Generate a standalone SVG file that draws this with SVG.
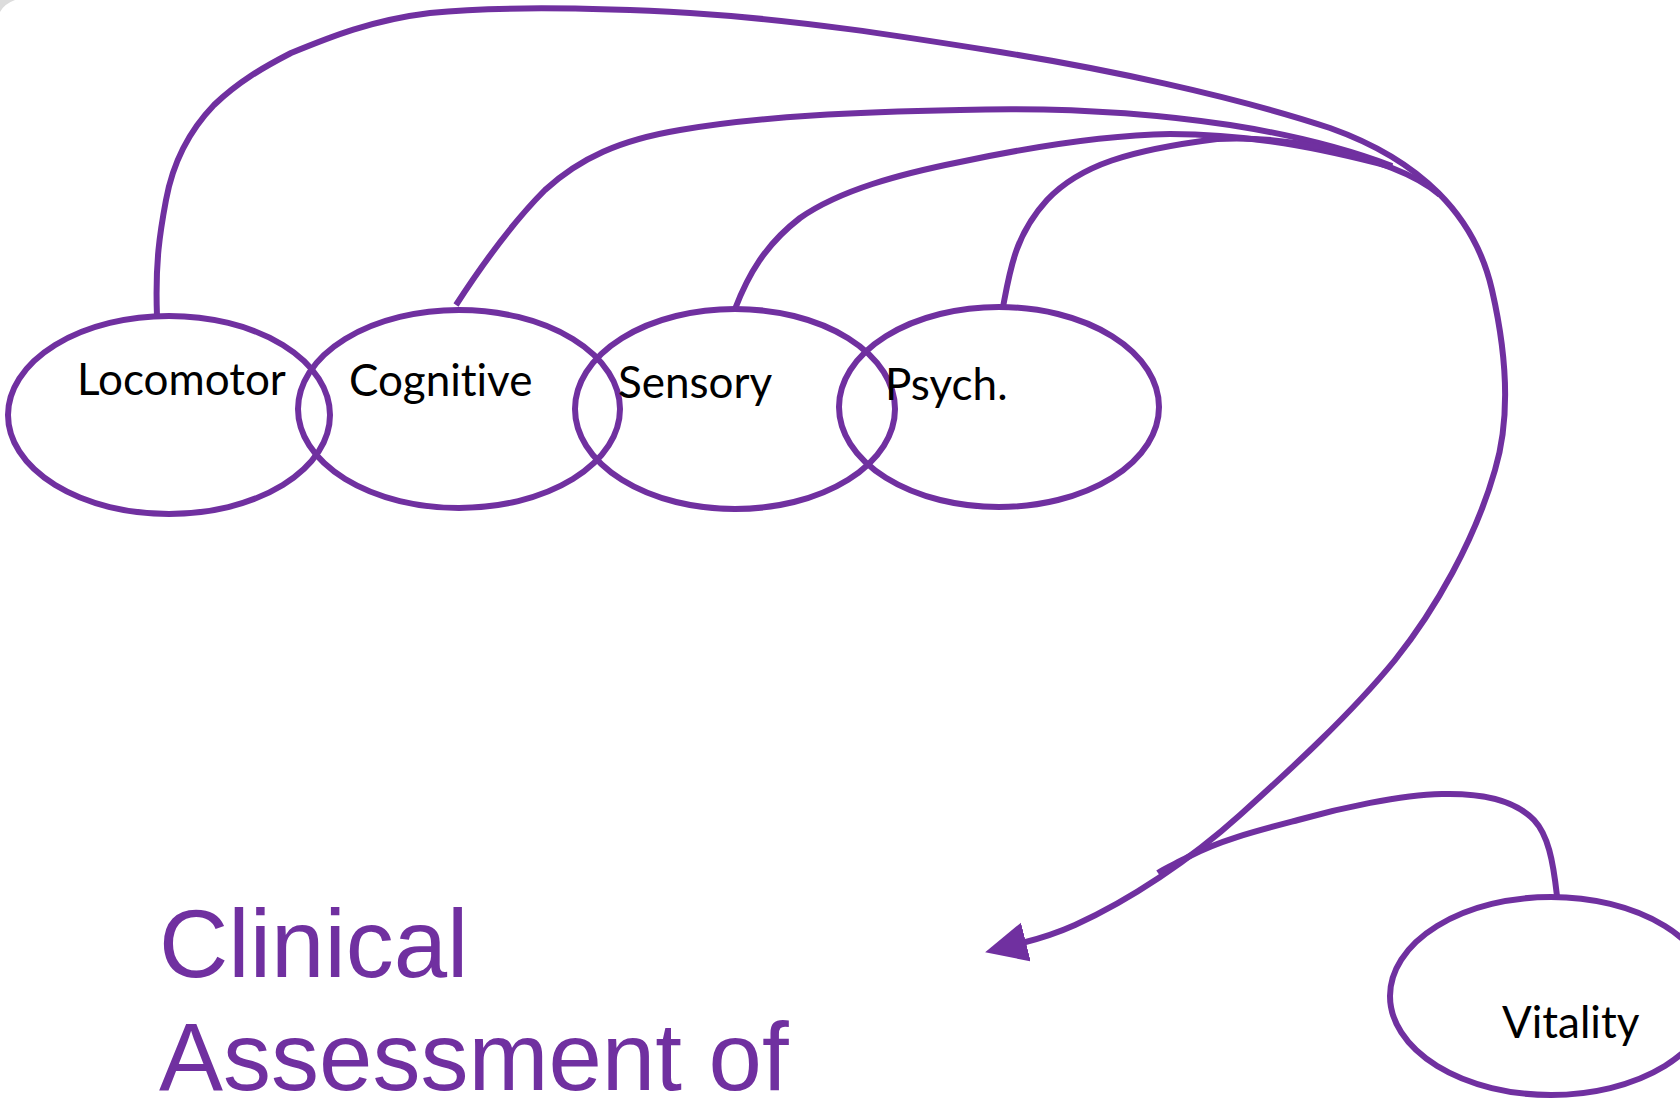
<svg xmlns="http://www.w3.org/2000/svg" width="1680" height="1098" viewBox="0 0 1680 1098">
<style>
.node ellipse{fill:none;stroke:#7030A0;stroke-width:6}
.lbl{font-family:Lato,"Open Sans",sans-serif;font-size:44px;fill:#000;font-variant-ligatures:none}
.conn path{fill:none;stroke:#7030A0;stroke-width:6;stroke-linecap:butt}
.title{font-family:"Liberation Sans",Arial,sans-serif;font-size:96px;fill:#7030A0}
</style>
<defs>
<marker id="arr" markerUnits="userSpaceOnUse" markerWidth="44" markerHeight="44" refX="4" refY="20" orient="auto" viewBox="0 0 44 44">
<path d="M0,0 L42,20 L0,40 Z" fill="#7030A0"/>
</marker>
</defs>
<rect width="1680" height="1098" fill="#fff"/>
<path d="M0,12 Q4,4 15,0 L0,0 Z" fill="#dcdcdc"/>
<g class="conn" id="connectors">
<path d="M157,316 C155,262 160,232 166,200 C173,162 190,130 214,105 C238,82 262,68 291,53 C330,37 372,20 430,13 C500,6 600,8 690,13 C800,20 900,36 1000,52 C1100,68 1230,95 1330,128 C1420,160 1475,215 1492,290 C1508,360 1510,420 1495,470 C1475,540 1435,610 1395,660 C1350,715 1290,770 1240,815 C1190,860 1130,900 1075,925 C1055,934 1038,939 1022,943" marker-end="url(#arr)"/>
<path d="M456,305 C480,268 510,225 545,190 C580,158 620,140 680,130 C760,116 860,112 960,110 C1060,107 1150,113 1230,125 C1300,136 1350,150 1392,166"/>
<path d="M735,309 C748,275 765,245 800,218 C840,190 900,174 960,162 C1040,145 1110,135 1170,134 C1250,134 1320,148 1392,167"/>
<path d="M1003,307 C1010,270 1015,235 1047,200 C1080,165 1130,150 1217,139 C1290,135 1360,155 1392,168 C1410,175 1425,182 1440,195"/>
<path d="M1557,896 C1553,860 1548,835 1534,820 C1515,800 1480,793 1442,794 C1400,795 1340,808 1298,820 C1260,830 1220,840 1188,857 C1175,864 1165,868 1158,873"/>
</g>
<g class="node" id="locomotor"><ellipse cx="169" cy="415" rx="161" ry="99"/><text class="lbl" x="77" y="395">Locomotor</text></g>
<g class="node" id="cognitive"><ellipse cx="459" cy="409" rx="161" ry="99"/><text class="lbl" x="349" y="396">Cognitive</text></g>
<g class="node" id="sensory"><ellipse cx="735" cy="409" rx="160" ry="100"/><text class="lbl" x="618" y="398">Sensory</text></g>
<g class="node" id="psych"><ellipse cx="999" cy="407" rx="160" ry="100"/><text class="lbl" x="885" y="400">Psych.</text></g>
<g class="node" id="vitality"><ellipse cx="1551" cy="996" rx="161" ry="99"/><text class="lbl" x="1502" y="1038">Vitality</text></g>
<g id="title"><text class="title" x="159" y="977">Clinical</text><text class="title" x="159" y="1090">Assessment of</text></g>
</svg>
